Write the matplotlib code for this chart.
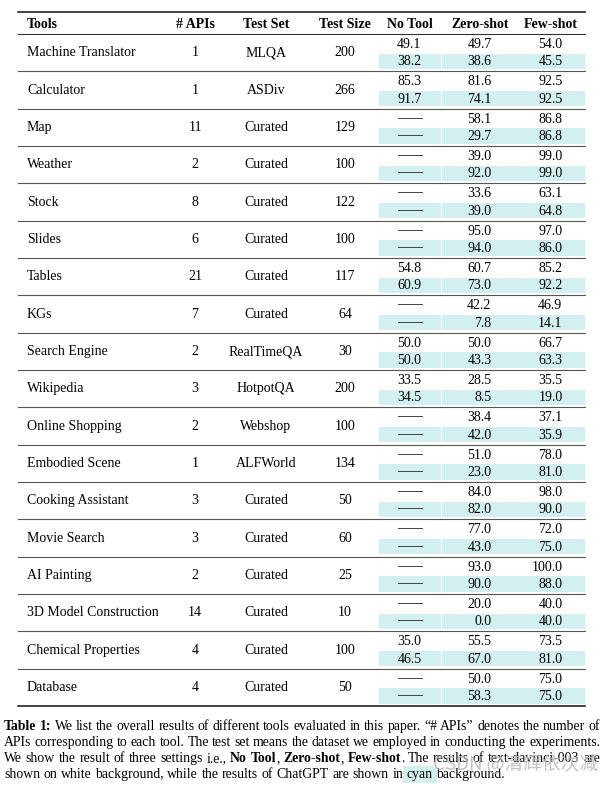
import matplotlib
matplotlib.use("Agg")
import matplotlib.pyplot as plt
from matplotlib.patches import Rectangle

# ---- table data ----
headers = ["Tools", "# APIs", "Test Set", "Test Size", "No Tool", "Zero-shot", "Few-shot"]
tools = ["Machine Translator", "Calculator", "Map", "Weather", "Stock", "Slides", "Tables",
         "KGs", "Search Engine", "Wikipedia", "Online Shopping", "Embodied Scene",
         "Cooking Assistant", "Movie Search", "AI Painting", "3D Model Construction",
         "Chemical Properties", "Database"]
n_apis = [1, 1, 11, 2, 8, 6, 21, 7, 2, 3, 2, 1, 3, 3, 2, 14, 4, 4]
test_sets = ["MLQA", "ASDiv", "Curated", "Curated", "Curated", "Curated", "Curated", "Curated",
             "RealTimeQA", "HotpotQA", "Webshop", "ALFWorld", "Curated", "Curated", "Curated",
             "Curated", "Curated", "Curated"]
test_sizes = [200, 266, 129, 100, 122, 100, 117, 64, 30, 200, 100, 134, 50, 60, 25, 10, 100, 50]

# text-davinci-003 (white background)
davinci_no = [49.1, 85.3, None, None, None, None, 54.8, None, 50.0, 33.5, None, None, None, None, None, None, 35.0, None]
davinci_zero = [49.7, 81.6, 58.1, 39.0, 33.6, 95.0, 60.7, 42.2, 50.0, 28.5, 38.4, 51.0, 84.0, 77.0, 93.0, 20.0, 55.5, 50.0]
davinci_few = [54.0, 92.5, 86.8, 99.0, 63.1, 97.0, 85.2, 46.9, 66.7, 35.5, 37.1, 78.0, 98.0, 72.0, 100.0, 40.0, 73.5, 75.0]
# ChatGPT (cyan background)
chatgpt_no = [38.2, 91.7, None, None, None, None, 60.9, None, 50.0, 34.5, None, None, None, None, None, None, 46.5, None]
chatgpt_zero = [38.6, 74.1, 29.7, 92.0, 39.0, 94.0, 73.0, 7.8, 43.3, 8.5, 42.0, 23.0, 82.0, 43.0, 90.0, 0.0, 67.0, 58.3]
chatgpt_few = [45.5, 92.5, 86.8, 99.0, 64.8, 86.0, 92.2, 14.1, 63.3, 19.0, 35.9, 81.0, 90.0, 75.0, 88.0, 40.0, 81.0, 75.0]

caption_lines = [
    [("Table 1:", "bold"), ("  We list the overall results of different tools evaluated in this paper. \u201c# APIs\u201d denotes the number of", "normal")],
    [("APIs corresponding to each tool. The test set means the dataset we employed in conducting the experiments.", "normal")],
    [("We show the result of three settings i.e., ", "normal"), ("No Tool", "bold"), (", ", "normal"),
     ("Zero-shot", "bold"), (", ", "normal"), ("Few-shot", "bold"), (". The results of text-davinci-003 are", "normal")],
    [("shown on white background, while the results of ChatGPT are shown in ", "normal"), ("cyan", "cyan"),
     (" background.", "normal")],
]

# ---- layout (pixel coordinates) ----
W, H = 615, 785
fig = plt.figure(figsize=(W / 100, H / 100), dpi=100)
ax = fig.add_axes([0, 0, 1, 1])
ax.set_xlim(0, W)
ax.set_ylim(H, 0)
ax.axis("off")

serif = "Liberation Serif"
fs = 10.0
cyan = "#d3f0f0"
x_left, x_right = 18, 585
col_x = [27, 195, 266, 345, 410, 480, 551]
num_off = 11.5  # right edge of "00.0" relative to column centre
top_y, head_y, row0 = 12, 34, 34
row_h = (706 - 34) / len(tools)
va = "center_baseline"

ax.plot([x_left, x_right], [top_y, top_y], color="#222222", lw=1.2)
ax.plot([x_left, x_right], [head_y, head_y], color="#333333", lw=0.8)
for j, h in enumerate(headers):
    ax.text(col_x[j], 22.5, h, ha="left" if j == 0 else "center", va=va,
            family=serif, fontsize=fs, fontweight="bold")


def put_val(x, y, v):
    if v is None:
        ax.plot([x - 12, x + 12], [y, y], color="#444444", lw=0.7)
    else:
        ax.text(x + num_off, y, f"{v:.1f}", ha="right", va=va, family=serif, fontsize=fs)


for i, name in enumerate(tools):
    top = row0 + i * row_h
    ax.add_patch(Rectangle((379, top + 19.5), x_right - 379, 15.5, color=cyan, lw=0, zorder=0))
    ax.plot([441, 441], [top + 19.5, top + 35], color="white", lw=0.6, zorder=0.5)
    mid = top + row_h / 2 - 1.2
    ax.text(col_x[0], mid, name, ha="left", va=va, family=serif, fontsize=fs)
    ax.text(col_x[1], mid, str(n_apis[i]), ha="center", va=va, family=serif, fontsize=fs)
    ax.text(col_x[2], mid, test_sets[i], ha="center", va=va, family=serif, fontsize=fs)
    ax.text(col_x[3], mid, str(test_sizes[i]), ha="center", va=va, family=serif, fontsize=fs)
    for k, (a, b) in enumerate([(davinci_no, chatgpt_no), (davinci_zero, chatgpt_zero),
                                (davinci_few, chatgpt_few)]):
        put_val(col_x[4 + k], top + 9, a[i])
        put_val(col_x[4 + k], top + 26.3, b[i])
    yb = top + row_h
    last = i == len(tools) - 1
    ax.plot([x_left, x_right], [yb, yb], color="#222222" if last else "#555555",
            lw=1.2 if last else 0.8)

# ---- justified caption ----
renderer = fig.canvas.get_renderer()


def width_of(s, weight, size):
    t = ax.text(0, 0, s, family=serif, fontsize=size,
                fontweight="bold" if weight == "bold" else "normal")
    w = t.get_window_extent(renderer).width
    t.remove()
    return w


def tokens(segments):
    out = []
    gap = False
    for s, w in segments:
        parts = s.split(" ")
        for n, p in enumerate(parts):
            if n > 0:
                gap = True
            if p == "":
                continue
            out.append([p, w, gap and bool(out)])
            gap = False
    return out


cap_x0, cap_x1 = 4, 600
# caption size: make the second (plain) line fill the width naturally
cap_fs = fs * (cap_x1 - cap_x0) / width_of(caption_lines[1][0][0], "normal", fs)
space_w = width_of("a a", "normal", cap_fs) - width_of("aa", "normal", cap_fs)
for li, line in enumerate(caption_lines):
    y = 730 + li * 16  # baseline
    toks = tokens(line)
    widths = [width_of(t[0], t[1], cap_fs) for t in toks]
    gaps = sum(1 for t in toks if t[2])
    justify = li < len(caption_lines) - 1
    sp = (cap_x1 - cap_x0 - sum(widths)) / gaps if justify else space_w
    x = cap_x0
    for (s, w, g), tw in zip(toks, widths):
        if g:
            x += sp
        if w == "cyan":
            ax.add_patch(Rectangle((x - 4, y - 12), tw + 8, 17, color=cyan, lw=0, zorder=0))
        ax.text(x, y, s, ha="left", va="baseline", family=serif, fontsize=cap_fs,
                fontweight="bold" if w == "bold" else "normal")
        x += tw

# watermark
ax.text(598, 764, "CSDN @清辉依次减", ha="right", va="center", fontsize=13.5,
        family=["Noto Sans CJK SC", "DejaVu Sans"], color="#b8b8b8", alpha=0.85)

fig.savefig("out.png", dpi=100)
